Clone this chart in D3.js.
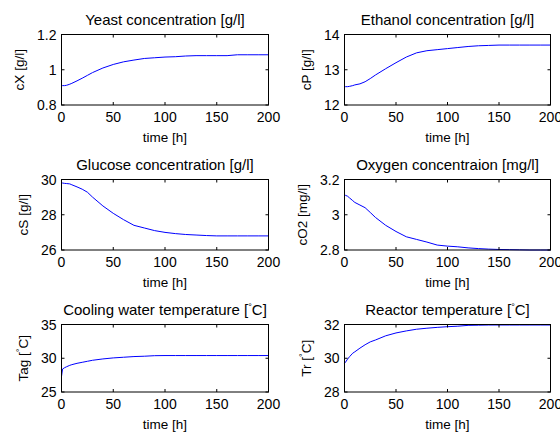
<!DOCTYPE html>
<html>
<head>
<meta charset="utf-8">
<script src="https://cdn.jsdelivr.net/npm/d3@7"></script>
<style>
  body { margin: 0; background: #fff; }
  svg text { font-family: 'Liberation Sans', Arial, Helvetica, sans-serif; fill: #000; }
</style>
</head>
<body>
<div id="chart"></div>
<script>
// sample times [h], shared by all six series
const time = [0, 1, 3, 5, 8, 10, 15, 20, 25, 30, 40, 50, 60, 70, 80, 90, 100, 110, 120, 130, 140, 150, 160, 170, 180, 190, 200];

const cX = [0.91, 0.91, 0.91, 0.912, 0.918, 0.923, 0.937, 0.952, 0.968, 0.984, 1.01, 1.03, 1.045, 1.055, 1.064, 1.068, 1.072, 1.074, 1.078, 1.08, 1.08, 1.08, 1.08, 1.085, 1.085, 1.085, 1.085];
const cP = [12.52, 12.52, 12.52, 12.53, 12.55, 12.57, 12.6, 12.66, 12.75, 12.85, 13.03, 13.2, 13.36, 13.48, 13.54, 13.57, 13.6, 13.63, 13.66, 13.68, 13.69, 13.7, 13.7, 13.7, 13.7, 13.7, 13.7];
const cS = [29.82, 29.8, 29.78, 29.77, 29.75, 29.7, 29.58, 29.45, 29.28, 29.0, 28.5, 28.08, 27.72, 27.4, 27.25, 27.1, 27.0, 26.93, 26.88, 26.85, 26.82, 26.8, 26.8, 26.8, 26.8, 26.8, 26.8];
const cO2 = [3.11, 3.11, 3.105, 3.095, 3.08, 3.07, 3.055, 3.04, 3.013, 2.985, 2.94, 2.905, 2.875, 2.86, 2.845, 2.828, 2.822, 2.818, 2.812, 2.808, 2.805, 2.803, 2.802, 2.801, 2.8, 2.8, 2.8];
const Tag = [27.3, 28.4, 28.6, 28.75, 28.95, 29.05, 29.25, 29.4, 29.55, 29.7, 29.9, 30.05, 30.15, 30.25, 30.3, 30.38, 30.4, 30.4, 30.4, 30.4, 30.4, 30.4, 30.4, 30.4, 30.4, 30.4, 30.4];
const Tr = [29.7, 29.77, 29.95, 30.1, 30.3, 30.38, 30.6, 30.8, 30.97, 31.08, 31.33, 31.5, 31.62, 31.72, 31.78, 31.83, 31.87, 31.9, 31.95, 31.96, 31.97, 31.97, 31.97, 31.97, 31.97, 31.97, 31.97];

const titles = ['Yeast concentration [g/l]', 'Ethanol concentration [g/l]', 'Glucose concentration [g/l]',
  'Oxygen concentraion [mg/l]', 'Cooling water temperature [|C]', 'Reactor temperature [|C]'];
const yLabels = ['cX [g/l]', 'cP [g/l]', 'cS [g/l]', 'cO2 [mg/l]', 'Tag [|C]', 'Tr [|C]'];
const yTicks = [[0.8, 1, 1.2], [12, 13, 14], [26, 28, 30], [2.8, 3, 3.2], [25, 30, 35], [28, 30, 32]];
const xTicks = [0, 50, 100, 150, 200];
const xLabel = 'time [h]';
const series = [cX, cP, cS, cO2, Tag, Tr];

const W = 560, H = 434;
const cols = [[61.5, 268.5], [344.5, 550.5]];
const rows = [[34.5, 105], [179.5, 250], [324.5, 392]];

const svg = d3.select('#chart').append('svg')
  .attr('width', W).attr('height', H)
  .attr('viewBox', `0 0 ${W} ${H}`);
svg.append('rect').attr('width', W).attr('height', H).attr('fill', '#fff');

// '|' in a label marks a raised degree ring
function setLabel(sel, str) {
  const parts = str.split('|');
  sel.append('tspan').text(parts[0]);
  if (parts.length > 1) {
    sel.append('tspan').attr('font-size', '9px').attr('dy', -5).text('°');
    sel.append('tspan').attr('dy', 5).text(parts[1]);
  }
}

series.forEach((vals, i) => {
  const [x0, x1] = cols[i % 2];
  const [y0, y1] = rows[Math.floor(i / 2)];
  const ticks = yTicks[i];

  const x = d3.scaleLinear().domain([0, 200]).range([x0, x1]);
  const y = d3.scaleLinear().domain([ticks[0], ticks[ticks.length - 1]]).range([y1, y0]);

  const g = svg.append('g');

  // curve
  const line = d3.line().x((d, k) => x(time[k])).y(d => y(d));
  g.append('path')
    .attr('d', line(vals))
    .attr('fill', 'none')
    .attr('stroke', '#0000ff')
    .attr('stroke-width', 1);

  // inward ticks on all four sides
  const tl = 3;
  xTicks.forEach(t => {
    g.append('line').attr('x1', x(t)).attr('x2', x(t)).attr('y1', y1).attr('y2', y1 - tl).attr('stroke', '#000');
    g.append('line').attr('x1', x(t)).attr('x2', x(t)).attr('y1', y0).attr('y2', y0 + tl).attr('stroke', '#000');
  });
  ticks.forEach(t => {
    g.append('line').attr('x1', x0).attr('x2', x0 + tl).attr('y1', y(t)).attr('y2', y(t)).attr('stroke', '#000');
    g.append('line').attr('x1', x1).attr('x2', x1 - tl).attr('y1', y(t)).attr('y2', y(t)).attr('stroke', '#000');
  });

  // box
  g.append('rect')
    .attr('x', x0).attr('y', y0)
    .attr('width', x1 - x0).attr('height', y1 - y0)
    .attr('fill', 'none').attr('stroke', '#000').attr('stroke-width', 1);

  // x tick labels
  g.selectAll('.xt').data(xTicks).enter().append('text')
    .attr('x', d => x(d)).attr('y', y1 + 17)
    .attr('text-anchor', 'middle').attr('font-size', '14px')
    .text(d => d);

  // y tick labels
  const yt = g.selectAll('.yt').data(ticks).enter().append('text')
    .attr('x', x0 - 5).attr('y', d => y(d) + 5)
    .attr('text-anchor', 'end').attr('font-size', '14px')
    .text(d => d);
  let maxW = 0;
  yt.each(function () { maxW = Math.max(maxW, this.getComputedTextLength()); });

  // y label
  const lx = x0 - 5 - maxW - 13;
  const yl = g.append('text')
    .attr('transform', `translate(${lx},${(y0 + y1) / 2}) rotate(-90)`)
    .attr('text-anchor', 'middle').attr('font-size', '13.5px');
  setLabel(yl, yLabels[i]);

  // x label
  g.append('text')
    .attr('x', (x0 + x1) / 2).attr('y', y1 + 37)
    .attr('text-anchor', 'middle').attr('font-size', '13.5px')
    .text(xLabel);

  // title
  const tt = g.append('text')
    .attr('x', (x0 + x1) / 2).attr('y', y0 - 10)
    .attr('text-anchor', 'middle').attr('font-size', '15px');
  setLabel(tt, titles[i]);
});
</script>
</body>
</html>
